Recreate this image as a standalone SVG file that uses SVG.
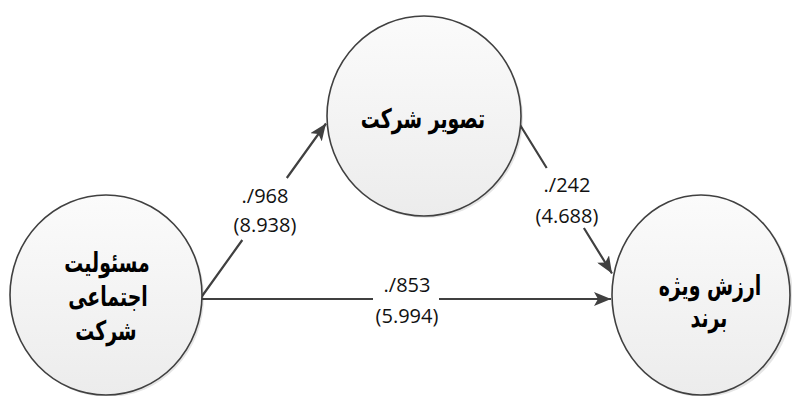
<svg xmlns="http://www.w3.org/2000/svg" width="792" height="396" viewBox="0 0 792 396">
<style>
.node{fill:url(#g);stroke:#404040;stroke-width:1.6}
.shadow{fill:#000;opacity:0.10}
.t{font-family:"DejaVu Sans",sans-serif;font-weight:bold;font-size:27px;fill:#000;text-anchor:middle;direction:rtl}
.lbl{font-family:"Open Sans","Liberation Sans",sans-serif;font-size:20px;fill:#111;text-anchor:middle}
.c{fill:none;stroke:#404040;stroke-width:2.2;marker-end:url(#ah)}
</style>
<defs>
<linearGradient id="g" x1="0" y1="0" x2="0" y2="1">
<stop offset="0" stop-color="#fbfbfb"/>
<stop offset="1" stop-color="#ececec"/>
</linearGradient>
<marker id="ah" markerUnits="userSpaceOnUse" markerWidth="18" markerHeight="14" refX="17" refY="7" orient="auto">
<path d="M0,0 L17,7 L0,14 L4,7 Z" fill="#404040"/>
</marker>
</defs>
<rect width="792" height="396" fill="#fff"/>
<g id="connectors">
<path class="c" d="M200,299 L242.3,240 M286.8,178 L326,123.5"/>
<path class="c" d="M517,120 L546.7,168 M583.9,228 L612,273.5"/>
<path class="c" d="M201,299 L373,299 M439,299 L611,299"/>
</g>
<g id="labels">
<text class="lbl" x="265" y="203">./968</text>
<text class="lbl" x="265" y="232">(8.938)</text>
<text class="lbl" x="567" y="192">./242</text>
<text class="lbl" x="567" y="223">(4.688)</text>
<text class="lbl" x="407" y="292">./853</text>
<text class="lbl" x="407" y="323">(5.994)</text>
</g>
<g id="csr">
<ellipse class="shadow" cx="108" cy="297" rx="96" ry="100"/>
<ellipse class="node" cx="106" cy="295" rx="96" ry="100"/>
<text class="t" transform="translate(107,272) scale(0.7,1)">مسئولیت</text>
<text class="t" transform="translate(108,306) scale(0.7,1)">اجتماعی</text>
<text class="t" transform="translate(106,340) scale(0.7,1)">شرکت</text>
</g>
<g id="image">
<ellipse class="shadow" cx="426" cy="118" rx="97" ry="100"/>
<ellipse class="node" cx="424" cy="116" rx="97" ry="100"/>
<text class="t" transform="translate(423,128) scale(0.7,1)">تصویر شرکت</text>
</g>
<g id="brand">
<ellipse class="shadow" cx="703" cy="297" rx="90" ry="100"/>
<ellipse class="node" cx="701" cy="295" rx="89" ry="100"/>
<text class="t" transform="translate(710,295) scale(0.7,1)">ارزش ویژه</text>
<text class="t" transform="translate(709,327) scale(0.7,1)">برند</text>
</g>
</svg>
